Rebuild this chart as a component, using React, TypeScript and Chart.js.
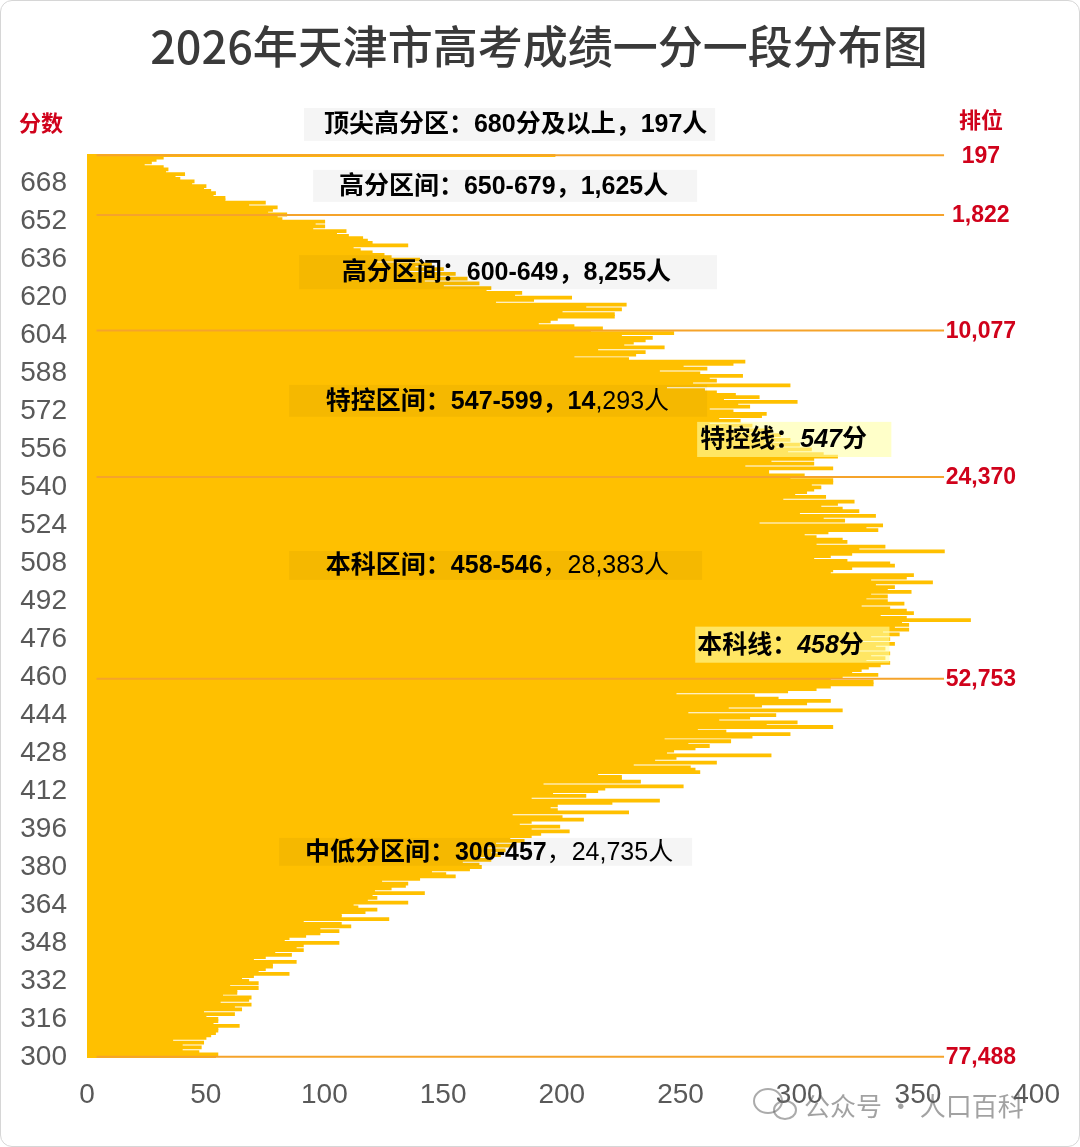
import React, { useEffect, useRef } from 'react';
import { Chart, registerables } from 'chart.js';

Chart.register(...registerables);

const TITLE = '2026年天津市高考成绩一分一段分布图';
const TOP_SCORE = 680;
const BOTTOM_SCORE = 300;

// score categories, top (680 = 680分及以上) to bottom (300)
const scoreLabels: string[] = Array.from({ length: TOP_SCORE - BOTTOM_SCORE + 1 }, (_, i) => String(TOP_SCORE - i));

// number of candidates per score (top to bottom)
const counts680 = [197];
const counts679to650 = [
  32, 29, 27, 24, 32, 34, 33, 41, 37, 39,
  45, 44, 50, 49, 52, 54, 53, 58, 58, 75,
  68, 80, 78, 76, 84, 80, 82, 100, 96, 100,
];
const counts649to600 = [
  95, 109, 105, 110, 116, 118, 120, 135, 112, 115,
  120, 125, 128, 140, 122, 145, 138, 150, 133, 155,
  147, 160, 142, 165, 150, 170, 168, 183, 180, 204,
  188, 172, 227, 210, 225, 200, 222, 222, 198, 195,
  190, 205, 217, 212, 247, 225, 238, 235, 230, 226,
];
const counts599to547 = [
  243, 215, 235, 231, 205, 228, 277, 272, 251, 261,
  241, 258, 276, 262, 265, 255, 296, 244, 260, 265,
  273, 283, 268, 299, 274, 279, 262, 272, 286, 284,
  266, 275, 262, 280, 270, 288, 275, 292, 282, 296,
  285, 300, 290, 305, 295, 310, 316, 306, 288, 306, 277, 314, 287,
];
const counts546to458 = [
  287, 302, 296, 314, 314, 305, 309, 306, 303, 298,
  311, 293, 323, 316, 309, 318, 325, 300, 332, 310,
  319, 283, 335, 328, 333, 312, 302, 307, 318, 320,
  307, 336, 325, 361, 322, 313, 306, 320, 338, 340,
  322, 314, 313, 348, 345, 330, 356, 332, 340, 337,
  347, 330, 337, 328, 337, 344, 326, 338, 345, 348,
  334, 345, 372, 343, 346, 340, 346, 335, 342, 330,
  338, 326, 340, 332, 336, 325, 338, 330, 336, 328,
  338, 334, 329, 326, 322, 333, 318, 313, 331,
];
const counts457to300 = [
  331, 313, 307, 295, 248, 281, 291, 313, 303, 284,
  270, 318, 253, 290, 279, 266, 299, 286, 314, 257,
  269, 296, 280, 243, 271, 253, 262, 256, 247, 244,
  288, 248, 239, 265, 230, 254, 256, 258, 215, 225,
  225, 233, 192, 251, 218, 215, 196, 210, 187, 241,
  221, 198, 195, 198, 228, 179, 200, 209, 187, 182,
  199, 187, 203, 191, 187, 178, 184, 172, 180, 168,
  176, 170, 174, 162, 170, 158, 165, 166, 161, 145,
  151, 155, 140, 124, 135, 134, 128, 121, 142, 120,
  122, 118, 135, 112, 114, 122, 117, 107, 107, 127,
  91, 107, 111, 98, 106, 98, 92, 85, 83, 106,
  91, 88, 91, 79, 86, 75, 70, 88, 78, 78,
  75, 72, 85, 70, 65, 68, 72, 60, 72, 63,
  63, 57, 69, 68, 56, 69, 62, 65, 49, 62,
  50, 55, 55, 53, 64, 55, 55, 54, 52, 50,
  36, 49, 40, 48, 40, 47, 55, 54,
];
const counts = [
  ...counts680, ...counts679to650, ...counts649to600,
  ...counts599to547, ...counts546to458, ...counts457to300,
];

// cumulative rank markers (score position of the line, label)
const markerScores = [680, 654.8, 606.1, 544.4, 459.3, 300];
const markerRanks = ['197', '1,822', '10,077', '24,370', '52,753', '77,488'];

type Run = { t: string; w?: string; i?: boolean };
const GRAY_BOX = 'rgba(0,0,0,0.04)';
const YELLOW_BOX = 'rgba(255,255,165,0.6)';
// box: [valueLeft, valueRight, scoreTop, scoreBottom]
const notes: { runs: Run[]; box: number[]; textX: number; fill: string }[] = [
  { runs: [{ t: '顶尖高分区：680分及以上，197人' }], box: [91.4, 264.6, 699.9, 686.0], textX: 99.8, fill: GRAY_BOX },
  { runs: [{ t: '高分区间：650-679，1,625人' }], box: [95.2, 257.0, 673.8, 660.3], textX: 106.1, fill: GRAY_BOX },
  { runs: [{ t: '高分区间：600-649，8,255人' }], box: [89.3, 265.4, 637.9, 623.5], textX: 107.3, fill: GRAY_BOX },
  { runs: [{ t: '特控区间：547-599，14' }, { t: ',293人', w: 'normal' }], box: [85.1, 261.2, 583.2, 569.7], textX: 100.6, fill: GRAY_BOX },
  { runs: [{ t: '特控线：' }, { t: '547', i: true }, { t: '分' }], box: [257.0, 338.8, 567.6, 552.8], textX: 258.3, fill: YELLOW_BOX },
  { runs: [{ t: '本科区间：458-546' }, { t: '，28,383人', w: 'normal' }], box: [85.1, 259.1, 513.2, 501.0], textX: 100.6, fill: GRAY_BOX },
  { runs: [{ t: '本科线：' }, { t: '458', i: true }, { t: '分' }], box: [256.2, 338.0, 481.3, 466.1], textX: 257.0, fill: YELLOW_BOX },
  { runs: [{ t: '中低分区间：300-457' }, { t: '，24,735人', w: 'normal' }], box: [80.9, 254.9, 392.3, 380.5], textX: 91.8, fill: GRAY_BOX },
];

const BAR_COLOR = '#FFC000';
const LINE_COLOR = '#F5A32B';
const RED = '#D0021B';
const FONT = '"Liberation Sans", "Noto Sans CJK SC", sans-serif';
const CJK = '"Noto Sans CJK SC", "Liberation Sans", sans-serif';

function drawRuns(ctx: CanvasRenderingContext2D, runs: Run[], x: number, y: number, size: number) {
  let cx = x;
  for (const r of runs) {
    ctx.font = `${r.i ? 'italic ' : ''}${r.w ?? 'bold'} ${size}px ${FONT}`;
    ctx.fillText(r.t, cx, y);
    cx += ctx.measureText(r.t).width;
  }
}

const overlayPlugin = {
  id: 'overlay',
  afterDatasetsDraw(chart: any) {
    const { ctx, scales } = chart;
    const x = scales.x;
    const y = scales.y;
    const px = (v: number) => x.getPixelForValue(v);
    const py = (s: number) => y.getPixelForValue(TOP_SCORE - s);
    ctx.save();
    // marker lines
    ctx.strokeStyle = LINE_COLOR;
    ctx.lineWidth = 2;
    markerScores.forEach((s) => {
      ctx.beginPath();
      ctx.moveTo(px(4), py(s));
      ctx.lineTo(px(361), py(s));
      ctx.stroke();
    });
    // rank labels
    ctx.fillStyle = RED;
    ctx.font = `bold 23px ${FONT}`;
    ctx.textAlign = 'center';
    ctx.textBaseline = 'middle';
    markerScores.forEach((s, i) => {
      ctx.fillText(markerRanks[i], px(376.5), py(s) + 1);
    });
    // annotation boxes
    ctx.textAlign = 'left';
    notes.forEach((n) => {
      const x0 = px(n.box[0]);
      const x1 = px(n.box[1]);
      const y0 = py(n.box[2]);
      const y1 = py(n.box[3]);
      ctx.fillStyle = n.fill;
      ctx.fillRect(x0, y0, x1 - x0, y1 - y0);
      ctx.fillStyle = '#000';
      drawRuns(ctx, n.runs, px(n.textX), (y0 + y1) / 2 + 1, 25);
    });
    ctx.restore();
  },
  afterDraw(chart: any) {
    const { ctx } = chart;
    ctx.save();
    ctx.fillStyle = '#3a3a3a';
    ctx.font = `500 45px ${CJK}`;
    ctx.textAlign = 'center';
    ctx.textBaseline = 'middle';
    ctx.fillText(TITLE, 539, 47);
    ctx.fillStyle = RED;
    ctx.font = `bold 22px ${CJK}`;
    ctx.fillText('分数', 41, 123);
    ctx.fillText('排位', 981, 120);
    // watermark
    ctx.globalAlpha = 0.55;
    ctx.strokeStyle = '#666';
    ctx.lineWidth = 2;
    ctx.beginPath();
    ctx.ellipse(768, 1101, 14, 12, 0, 0, Math.PI * 2);
    ctx.stroke();
    ctx.beginPath();
    ctx.ellipse(785, 1110, 11, 9, 0, 0, Math.PI * 2);
    ctx.stroke();
    ctx.fillStyle = '#555';
    ctx.font = `normal 26px ${CJK}`;
    ctx.textAlign = 'left';
    ctx.fillText('公众号 · 人口百科', 804, 1106);
    ctx.restore();
  },
};

export default function App() {
  const ref = useRef<HTMLCanvasElement | null>(null);
  useEffect(() => {
    document.body.style.margin = '0';
    const canvas = ref.current;
    if (!canvas) return;
    const chart = new Chart(canvas, {
      type: 'bar',
      data: {
        labels: scoreLabels,
        datasets: [
          {
            data: counts,
            backgroundColor: BAR_COLOR,
            borderWidth: 0,
            barPercentage: 1,
            categoryPercentage: 1,
            inflateAmount: 0.7,
          },
        ],
      },
      options: {
        indexAxis: 'y',
        responsive: false,
        animation: false,
        devicePixelRatio: 1,
        layout: { padding: { top: 154, right: 39, left: 0, bottom: 0 } },
        plugins: { legend: { display: false }, tooltip: { enabled: false }, title: { display: false } },
        scales: {
          x: {
            type: 'linear',
            min: 0,
            max: 400,
            grid: { display: false, drawTicks: false },
            border: { display: false },
            ticks: { stepSize: 50, padding: 20, color: '#595959', font: { family: 'Liberation Sans', size: 28 } },
            afterFit: (s: any) => { s.height = 89; },
          },
          y: {
            type: 'category',
            grid: { display: false, drawTicks: false },
            border: { display: false },
            ticks: {
              autoSkip: false,
              padding: 20,
              color: '#595959',
              font: { family: 'Liberation Sans', size: 28 },
              callback: (_v: any, idx: number) => {
                const s = TOP_SCORE - idx;
                return (s - BOTTOM_SCORE) % 16 === 0 ? String(s) : null;
              },
            },
            afterFit: (s: any) => { s.width = 87; },
          },
        },
      },
      plugins: [overlayPlugin],
    } as any);
    return () => chart.destroy();
  }, []);
  return (
    <div style={{ position: 'relative', width: 1080, height: 1147, background: '#fff' }}>
      <canvas ref={ref} width={1080} height={1147} style={{ display: 'block' }} />
      <div style={{ position: 'absolute', inset: 0, border: '1px solid #d6d6d6', borderRadius: 12, pointerEvents: 'none' }} />
    </div>
  );
}
